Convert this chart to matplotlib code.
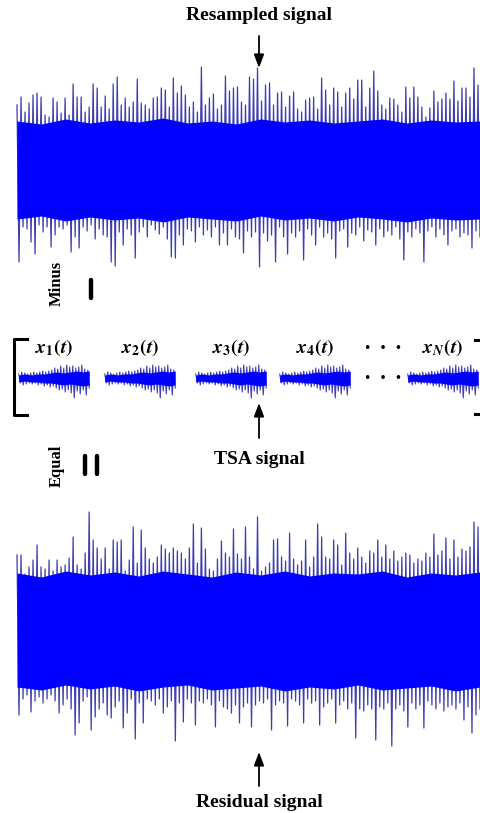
# sketch of the TSA / residual signal decomposition

import numpy as np
import matplotlib.pyplot as plt

W, H = 481, 813  # figure size in pixels

# resampled signal: positive peaks and negative troughs (amplitude units)
resampled_up = [62, 70, 55, 64, 72, 74, 70, 52, 50, 69, 65, 54, 69, 52, 83, 70,
                70, 55, 60, 83, 79, 60, 71, 58, 83, 90, 62, 69, 60, 65, 88, 64,
                62, 58, 69, 70, 79, 77, 60, 89, 74, 81, 72, 60, 65, 55, 100, 62,
                69, 73, 58, 62, 91, 76, 79, 80, 65, 62, 90, 88, 99, 66, 82, 84,
                62, 74, 75, 60, 71, 75, 58, 55, 67, 69, 70, 58, 89, 77, 62, 79,
                75, 60, 74, 79, 68, 87, 87, 60, 79, 96, 76, 62, 58, 69, 68, 62,
                55, 80, 69, 80, 70, 60, 50, 59, 76, 65, 68, 74, 68, 86, 66, 79,
                79, 70, 99, 82]
resampled_low = [95, 60, 62, 75, 87, 58, 65, 60, 80, 68, 60, 62, 58, 85, 70, 81,
                 60, 64, 58, 72, 62, 68, 70, 95, 99, 65, 78, 62, 68, 91, 65, 60,
                 70, 58, 63, 67, 60, 72, 90, 91, 68, 78, 62, 64, 75, 60, 68, 63,
                 70, 60, 78, 66, 78, 62, 70, 72, 86, 64, 70, 65, 100, 66, 74, 68,
                 95, 60, 70, 87, 66, 70, 64, 93, 62, 68, 78, 60, 70, 66, 72, 91,
                 64, 62, 80, 66, 68, 60, 74, 63, 65, 78, 62, 70, 64, 68, 60, 72,
                 93, 65, 70, 62, 66, 95, 64, 60, 70, 62, 68, 78, 64, 62, 70, 66,
                 68, 81, 64, 70]
resampled_core_up = [46, 43, 48, 44, 47, 45, 49, 44, 46, 43, 48, 45, 47, 44, 46,
                     48, 44, 47, 45, 46]
resampled_core_low = [52, 49, 54, 50, 53, 51, 55, 50, 52, 54, 49, 53, 51, 54, 50,
                      52, 55, 51, 53, 52]

# residual signal
residual_up = [74, 74, 55, 62, 69, 84, 62, 60, 69, 58, 69, 62, 64, 71, 92, 64,
               60, 76, 117, 89, 81, 70, 81, 60, 89, 87, 89, 58, 69, 102, 66, 99,
               81, 70, 66, 72, 84, 80, 76, 81, 78, 76, 70, 81, 105, 66, 101, 80,
               60, 58, 70, 88, 76, 72, 100, 75, 70, 102, 72, 60, 112, 58, 62, 66,
               89, 90, 72, 68, 96, 70, 64, 68, 89, 62, 72, 105, 92, 72, 70, 89,
               84, 64, 96, 76, 70, 81, 72, 66, 78, 76, 89, 72, 84, 70, 78, 68,
               72, 76, 74, 66, 70, 68, 76, 72, 95, 74, 78, 91, 70, 89, 72, 80,
               78, 82, 107, 102]
residual_low = [86, 70, 66, 83, 72, 68, 74, 70, 66, 72, 84, 76, 70, 80, 106, 94,
                72, 68, 101, 88, 80, 74, 86, 89, 78, 72, 99, 84, 70, 110, 74, 94,
                70, 72, 76, 70, 84, 78, 72, 112, 74, 93, 70, 74, 96, 72, 74, 70,
                76, 98, 72, 78, 80, 84, 76, 94, 78, 74, 98, 76, 72, 74, 70, 101,
                76, 72, 74, 97, 70, 72, 76, 94, 70, 74, 72, 96, 78, 74, 70, 94,
                76, 72, 80, 74, 109, 80, 82, 76, 80, 111, 78, 80, 74, 117, 80, 76,
                82, 98, 74, 80, 76, 99, 72, 76, 80, 74, 82, 78, 76, 80, 74, 91,
                78, 104, 86, 80]
residual_core_up = [56, 52, 58, 54, 57, 53, 58, 55, 52, 57, 54, 58, 53, 56, 55,
                    58, 52, 56, 54, 57]
residual_core_low = [58, 61, 56, 60, 57, 62, 58, 56, 61, 59, 57, 62, 58, 60, 56,
                     61, 59, 57, 62, 58]

# one revolution segment x_i(t)
segment_up = [4, 6, 5, 4, 5, 6, 5, 6, 7, 6, 7, 8, 10, 9, 12, 10, 13, 11, 12, 10,
              11, 13, 9, 8]
segment_low = [5, 7, 6, 5, 6, 5, 7, 6, 8, 7, 9, 8, 10, 12, 11, 14, 12, 15, 20, 13,
               16, 12, 17, 10]
segment_core_up = [3, 4, 3, 4, 4, 5, 6, 5, 6, 7, 6, 7]
segment_core_low = [4, 3, 4, 4, 5, 5, 6, 7, 6, 7, 8, 7]

segment_labels = [r"$\mathbfit{x}_{\mathbf{1}}\mathbf{(}\mathbfit{t}\mathbf{)}$",
                  r"$\mathbfit{x}_{\mathbf{2}}\mathbf{(}\mathbfit{t}\mathbf{)}$",
                  r"$\mathbfit{x}_{\mathbf{3}}\mathbf{(}\mathbfit{t}\mathbf{)}$",
                  r"$\mathbfit{x}_{\mathbf{4}}\mathbf{(}\mathbfit{t}\mathbf{)}$",
                  r"$\mathbfit{x}_{\mathbfit{N}}\mathbf{(}\mathbfit{t}\mathbf{)}$"]

BLUE = "#0000ff"
SPIKE = "#3c3cb4"
SERIF = ["Liberation Serif", "DejaVu Serif"]

plt.rcParams["mathtext.fontset"] = "stix"


def px_axes(fig, x0, y0, x1, y1):
    ax = fig.add_axes([x0 / W, 1 - y1 / H, (x1 - x0) / W, (y1 - y0) / H])
    ax.axis("off")
    return ax


def draw_signal(ax, up, low, core_up, core_low, lim, lw=0.9):
    up = np.asarray(up, float)
    low = np.asarray(low, float)
    sig = np.empty(2 * len(up))
    sig[0::2] = up
    sig[1::2] = -low
    t = np.arange(len(sig))
    tc = np.linspace(0, len(sig) - 1, len(core_up))
    ax.plot(t, sig, color=SPIKE, lw=lw, zorder=1)
    ax.fill_between(tc, -np.asarray(core_low), core_up, color=BLUE, lw=0,
                    zorder=2)
    ax.set_xlim(-0.5, len(sig) - 0.5)
    ax.set_ylim(-lim, lim)


fig = plt.figure(figsize=(W / 100, H / 100), dpi=100)

# big signals
ax_top = px_axes(fig, 16, 57, 481, 277)
draw_signal(ax_top, resampled_up, resampled_low,
            resampled_core_up, resampled_core_low, 110)

ax_bot = px_axes(fig, 16, 509, 481, 749)
draw_signal(ax_bot, residual_up, residual_low,
            residual_core_up, residual_core_low, 120)

# revolution segments
seg_left = [18, 104, 195, 279, 407]
for x0 in seg_left:
    ax = px_axes(fig, x0, 353, x0 + 72, 403)
    draw_signal(ax, segment_up, segment_low, segment_core_up, segment_core_low,
                25, lw=0.8)

# overlay for text, arrows and brackets in pixel units
ov = fig.add_axes([0, 0, 1, 1])
ov.set_xlim(0, W)
ov.set_ylim(H, 0)
ov.axis("off")
ov.patch.set_alpha(0)

txt = dict(family=SERIF, weight="bold", ha="center", va="center")
ov.text(259, 15, "Resampled signal", fontsize=14, **txt)
ov.text(259, 459, "TSA signal", fontsize=14, **txt)
ov.text(259, 802, "Residual signal", fontsize=14, **txt)
ov.text(57, 283, "Minus", fontsize=12, rotation=90, **txt)
ov.text(57, 466, "Equal", fontsize=12, rotation=90, **txt)

for x0, lab in zip(seg_left, segment_labels):
    ov.text(x0 + 36, 348, lab, fontsize=14, ha="center", va="center")

for y in (348, 378):
    ov.text(383, y, "\u2022  \u2022  \u2022", fontsize=9, ha="center",
            va="center")

arrow = dict(arrowstyle="-|>,head_length=0.8,head_width=0.3", color="black",
             lw=1.3, shrinkA=0, shrinkB=0)
ov.annotate("", xy=(259, 68), xytext=(259, 36), arrowprops=arrow)
ov.annotate("", xy=(259, 403), xytext=(259, 438), arrowprops=arrow)
ov.annotate("", xy=(259, 752), xytext=(259, 786), arrowprops=arrow)

# minus and equal signs
ov.plot([91, 91], [280, 298], color="black", lw=3.2, solid_capstyle="round")
ov.plot([85, 85], [456, 474], color="black", lw=3.2, solid_capstyle="round")
ov.plot([97, 97], [456, 474], color="black", lw=3.2, solid_capstyle="round")

# brackets around the segments
ov.plot([27, 14, 14, 27], [339, 339, 415, 415], color="black", lw=2.2)
ov.plot([475, 481], [340, 340], color="black", lw=2.2)
ov.plot([475, 481], [414, 414], color="black", lw=2.2)

fig.savefig("out.png", dpi=100)
